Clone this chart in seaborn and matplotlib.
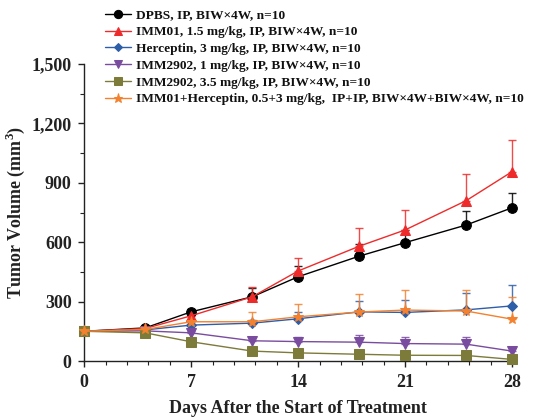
import numpy as np
import pandas as pd
import seaborn as sns
import matplotlib.pyplot as plt
from matplotlib.ticker import MultipleLocator, AutoMinorLocator, FuncFormatter

# Data
days = [0, 4, 7, 11, 14, 18, 21, 25, 28]

groups = [
    "DPBS, IP, BIW\u00d74W, n=10",
    "IMM01, 1.5 mg/kg, IP, BIW\u00d74W, n=10",
    "Herceptin, 3 mg/kg, IP, BIW\u00d74W, n=10",
    "IMM2902, 1 mg/kg, IP, BIW\u00d74W, n=10",
    "IMM2902, 3.5 mg/kg, IP, BIW\u00d74W, n=10",
    "IMM01+Herceptin, 0.5+3 mg/kg,  IP+IP, BIW\u00d74W+BIW\u00d74W, n=10",
]

dpbs = [151, 168, 249, 325, 426, 530, 598, 687, 774]
imm01 = [151, 165, 229, 325, 455, 580, 662, 810, 956]
herceptin = [151, 158, 182, 192, 214, 249, 246, 259, 279]
imm2902_1 = [151, 153, 143, 103, 99, 96, 89, 86, 51]
imm2902_35 = [151, 143, 98, 51, 42, 35, 30, 29, 9]
combo = [151, 160, 199, 199, 224, 248, 258, 253, 212]

dpbs_err = [0, 5, 14, 45, 54, 61, 64, 72, 76]
imm01_err = [0, 5, 12, 47, 65, 90, 100, 134, 160]
herceptin_err = [0, 5, 8, 15, 35, 55, 62, 83, 103]
imm2902_1_err = [0, 3, 8, 18, 21, 35, 32, 35, 21]
imm2902_35_err = [0, 2, 3, 5, 4, 4, 4, 4, 3]
combo_err = [0, 5, 10, 50, 67, 89, 100, 105, 111]

means = [dpbs, imm01, herceptin, imm2902_1, imm2902_35, combo]
errs = [dpbs_err, imm01_err, herceptin_err, imm2902_1_err, imm2902_35_err, combo_err]

colors = ["#000000", "#ee2b2b", "#2e5ea8", "#7a4c9f", "#7d7b3a", "#f3812f"]
markers = ["o", "^", "D", "v", "s", "*"]
msizes = [7, 7, 5, 7, 7, 8]

# long table for seaborn
rows = []
for g, m in zip(groups, means):
    for d, v in zip(days, m):
        rows.append({"day": d, "volume": v, "group": g})
df = pd.DataFrame(rows)

sns.set_style("ticks")
plt.rcParams["font.family"] = ["Liberation Serif", "DejaVu Serif"]
plt.rcParams["font.weight"] = "bold"
plt.rcParams["mathtext.fontset"] = "custom"
plt.rcParams["mathtext.bf"] = "Liberation Serif:bold"
plt.rcParams["mathtext.rm"] = "Liberation Serif:bold"

fig = plt.figure(figsize=(5.43, 4.2), dpi=100)
ax = fig.add_axes([0.155, 0.140, 0.788, 0.708])

# error bars first (upper only), then lines on top
for m, e, c in zip(means, errs, colors):
    ax.errorbar(days, m, yerr=[np.zeros(len(e)), e], fmt="none", ecolor=c,
                elinewidth=1.0, capsize=3, capthick=1.0, alpha=0.85,
                clip_on=False, zorder=2)

for g, c, mk, ms in zip(groups, colors, markers, msizes):
    sub = df[df["group"] == g]
    sns.lineplot(data=sub, x="day", y="volume", color=c, marker=mk,
                 markersize=ms, markeredgecolor=c, linewidth=1.0,
                 label=g, ax=ax, clip_on=False, zorder=3)

ax.set_xlim(0, 28)
ax.set_ylim(0, 1500)
ax.xaxis.set_major_locator(MultipleLocator(7))
ax.xaxis.set_minor_locator(AutoMinorLocator(5))
ax.yaxis.set_major_locator(MultipleLocator(300))
ax.yaxis.set_minor_locator(AutoMinorLocator(2))
ax.yaxis.set_major_formatter(FuncFormatter(lambda v, p: f"{int(v):,}"))

for s in ["top", "right"]:
    ax.spines[s].set_visible(False)
for s in ["left", "bottom"]:
    ax.spines[s].set_linewidth(1.0)
    ax.spines[s].set_color("#222222")

ax.tick_params(axis="both", which="major", direction="out", length=4,
               width=1.0, labelsize=13, colors="#222222", pad=5)
ax.tick_params(axis="both", which="minor", direction="out", length=3, width=0.8,
               colors="#222222")
for lab in ax.get_xticklabels() + ax.get_yticklabels():
    lab.set_fontweight("bold")

ax.set_xlabel("Days After the Start of Treatment", fontsize=13,
              fontweight="bold", color="#222222", labelpad=7)
ax.set_ylabel("Tumor Volume (mm$^{3}$)", fontsize=13,
              fontweight="bold", color="#222222", labelpad=3)

leg = ax.legend(loc="upper left", bbox_to_anchor=(0.178, 0.997),
                bbox_transform=fig.transFigure, frameon=False,
                fontsize=9.6, handlelength=2.0, handletextpad=0.35,
                labelspacing=0.33, borderaxespad=0.2, markerscale=0.85)
for t in leg.get_texts():
    t.set_fontweight("bold")
    t.set_color("#111111")

fig.savefig("out.png", dpi=100)
